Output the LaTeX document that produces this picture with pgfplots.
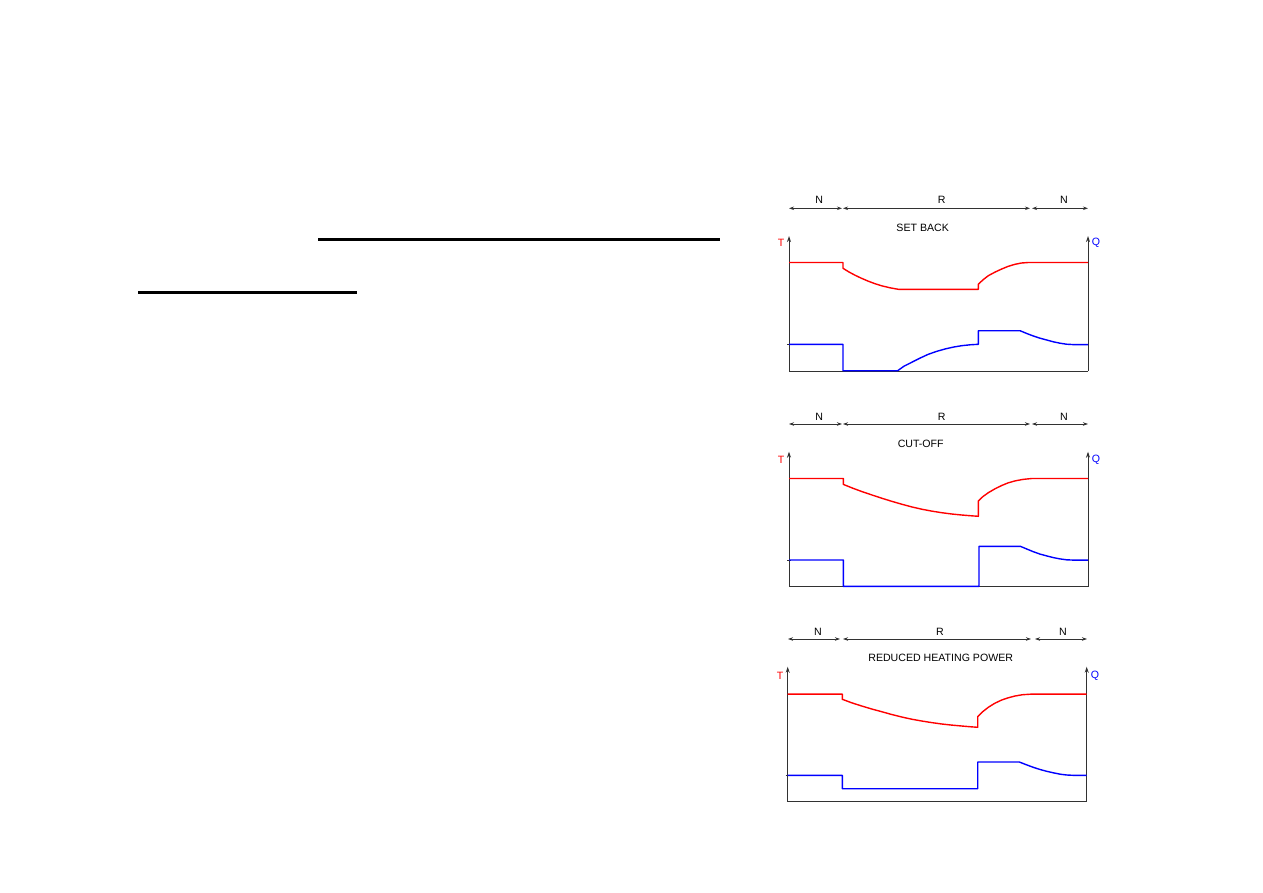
\documentclass[border=0pt]{standalone}
\usepackage{fontspec}
\setmainfont{Liberation Sans}
\usepackage{pgfplots}
\pgfplotsset{compat=1.18}
\usetikzlibrary{arrows.meta}
\definecolor{tred}{RGB}{255,0,0}
\definecolor{qblue}{RGB}{0,0,255}
\definecolor{axgray}{RGB}{50,50,50}

\pgfplotsset{
  heatpanel/.style={scale only axis, width=299pt, height=135pt,
    xmin=0, xmax=299, ymin=0, ymax=135, hide axis, clip=false,
    anchor=south west},
  tline/.style={tred, line width=1.4pt, line join=round},
  qline/.style={qblue, line width=1.4pt, line join=round},
}
\tikzset{
  lab/.style={font=\fontsize{10.6}{12}\selectfont, inner sep=0pt},
  span/.style={axgray, line width=0.8pt, {Stealth[length=5pt,width=3.5pt]}-{Stealth[length=5pt,width=3.5pt]}},
}
% frame of one panel: bottom line, two y axes with arrows, small tick at Q level
\newcommand\panelframe[1]{%
  \draw[axgray, line width=1pt] (axis cs:0,0) -- (axis cs:299,0);
  \draw[axgray, line width=1pt, -{Stealth[length=6pt,width=4pt]}] (axis cs:0,0) -- (axis cs:0,135);
  \draw[axgray, line width=1pt, -{Stealth[length=6pt,width=4pt]}] (axis cs:299,0) -- (axis cs:299,135);
  \draw[axgray, line width=0.8pt] (axis cs:-2,#1) -- (axis cs:2,#1);
}

\begin{document}
\begin{tikzpicture}
\path[use as bounding box] (0pt,0pt) rectangle (1263pt,-893pt);

% underlines on the left
\draw[line width=3pt] (318pt,-240pt) -- (720pt,-240pt);
\draw[line width=3pt] (138pt,-292pt) -- (357pt,-292pt);

% ---------- SET BACK ----------
\begin{axis}[heatpanel, at={(789pt,-371pt)}]
\panelframe{26.7}
\addplot[tline] coordinates {(0,108.5)(54,108.5)(54,102.7)(60,99)(66,95.8)(72.5,92.7)(79.3,89.8)
  (86,87.3)(92.7,85.2)(101,83.2)(109.3,81.7)(189.3,81.7)(189.3,86.7)(194,91.2)(199.3,95.3)
  (206,98.9)(212.7,102)(219,104.6)(226,106.7)(232.5,108)(239.3,108.5)(299,108.5)};
\addplot[qline] coordinates {(0,26.7)(54,26.7)(54,0.3)(108.7,0.3)(115,4.8)(122.7,8.7)(131,12.9)
  (139.3,16.7)(147.5,19.6)(156,22)(164.3,23.9)(172.7,25.3)(181,26.2)(189.3,26.7)(189.3,40.3)
  (231,40.3)(237.5,37.6)(244.3,35)(251,32.8)(257.7,31)(264.3,29.2)(271,27.8)(277.5,26.8)
  (284.3,26.4)(299,26.4)};
\end{axis}
\node[lab, text=tred] at (781pt,-243pt) {T};
\node[lab, text=qblue] at (1096pt,-243pt) {Q};
\node[lab] at (922.7pt,-227.7pt) {SET BACK};
\draw[span] (789pt,-208.3pt) -- (842pt,-208.3pt);
\draw[span] (843pt,-208.3pt) -- (1030pt,-208.3pt);
\draw[span] (1032pt,-208.3pt) -- (1088pt,-208.3pt);
\node[lab] at (819.3pt,-200pt) {N};
\node[lab] at (941.7pt,-200pt) {R};
\node[lab] at (1064pt,-200pt) {N};

% ---------- CUT-OFF ----------
\begin{axis}[heatpanel, at={(789pt,-586.7pt)}]
\panelframe{26.7}
\addplot[tline] coordinates {(0,108.2)(54.3,108.2)(54.3,102.3)(63.5,98.6)(72.7,95.2)(82.7,91.8)
  (92.7,88.5)(102.7,85.4)(112.7,82.5)(122.7,79.8)(132.7,77.5)(142.7,75.6)(152.7,74)(162.7,72.7)
  (172.7,71.7)(181,71)(189.3,70.4)(189.3,85.7)(194,90.2)(199.3,94)(206,97.9)(212.7,101.2)
  (219,103.8)(226,105.8)(234,107.3)(242.7,108.2)(299,108.2)};
\addplot[qline] coordinates {(0,26.7)(54.3,26.7)(54.3,0.3)(190,0.3)(190,40.4)(231.3,40.4)(238,37.6)
  (244.3,35)(251,32.6)(257.7,30.8)(264.3,29.1)(271,27.8)(277.5,26.9)(284.3,26.6)(299,26.6)};
\end{axis}
\node[lab, text=tred] at (781pt,-460pt) {T};
\node[lab, text=qblue] at (1096pt,-460pt) {Q};
\node[lab] at (920.7pt,-444pt) {CUT-OFF};
\draw[span] (789pt,-424pt) -- (842pt,-424pt);
\draw[span] (843pt,-424pt) -- (1030pt,-424pt);
\draw[span] (1032pt,-424pt) -- (1088pt,-424pt);
\node[lab] at (819.3pt,-416.7pt) {N};
\node[lab] at (941.7pt,-416.7pt) {R};
\node[lab] at (1064pt,-416.7pt) {N};

% ---------- REDUCED HEATING POWER ----------
\begin{axis}[heatpanel, at={(787.7pt,-801.7pt)}]
\panelframe{26.4}
\addplot[tline] coordinates {(0,107.6)(54.6,107.6)(54.6,102.4)(64,98.9)(74,95.7)(84,92.7)(94,90)
  (104,87.2)(114,84.7)(124,82.5)(134,80.7)(144,79.1)(154,77.7)(164,76.6)(174,75.7)(182,75)
  (190,74.4)(190,85)(195,90)(200.6,94.4)(207,98.4)(214,101.7)(220.5,103.9)(227.3,105.7)
  (235,107)(244,107.6)(299,107.6)};
\addplot[qline] coordinates {(0,26.4)(54.6,26.4)(54.6,13)(190,13)(190,39.7)(231.6,39.7)(238,37.2)
  (245,34.6)(252,32.3)(259,30.4)(266,28.8)(272.5,27.5)(279,26.7)(285,26.4)(299,26.4)};
\end{axis}
\node[lab, text=tred] at (780pt,-676pt) {T};
\node[lab, text=qblue] at (1095pt,-676pt) {Q};
\node[lab] at (940.7pt,-658.3pt) {REDUCED HEATING POWER};
\draw[span] (788pt,-639pt) -- (840pt,-639pt);
\draw[span] (843pt,-639pt) -- (1031pt,-639pt);
\draw[span] (1035pt,-639pt) -- (1087pt,-639pt);
\node[lab] at (818pt,-631.7pt) {N};
\node[lab] at (940pt,-631.7pt) {R};
\node[lab] at (1063pt,-631.7pt) {N};
\end{tikzpicture}
\end{document}
